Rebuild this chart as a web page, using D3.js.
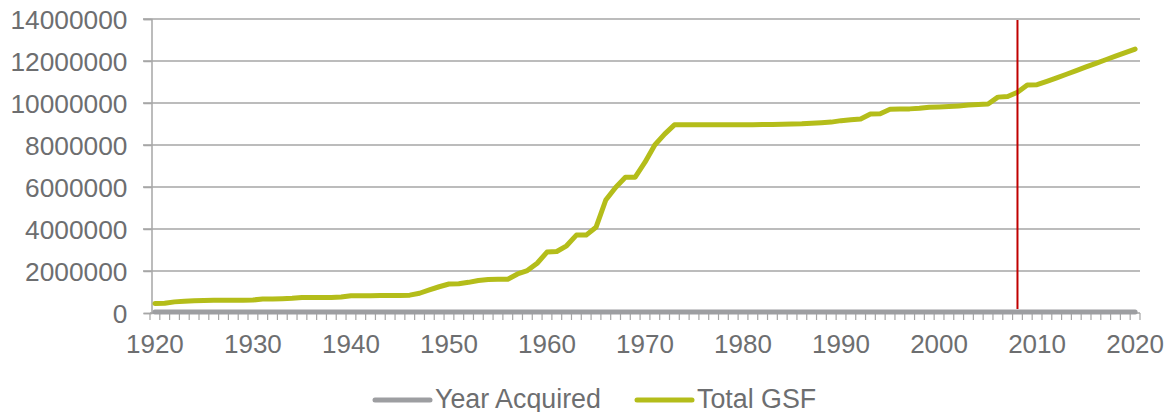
<!DOCTYPE html>
<html>
<head>
<meta charset="utf-8">
<script src="https://cdn.jsdelivr.net/npm/d3@7"></script>
<style>
  html, body { margin: 0; padding: 0; background: #fff; }
  svg { display: block; }
  text { font-family: "Liberation Sans", Arial, sans-serif; fill: #6d6e70; }
</style>
</head>
<body>
<svg id="chart" width="1165" height="412"></svg>
<script>
const years = d3.range(1920, 2021);
const yTicks = [0, 2000000, 4000000, 6000000, 8000000, 10000000, 12000000, 14000000];
const xTickLabels = [1920, 1930, 1940, 1950, 1960, 1970, 1980, 1990, 2000, 2010, 2020];
const totalGSF = [
  450000, 460000, 530000, 560000, 580000, 590000, 610000, 610000, 610000, 610000,
  620000, 670000, 670000, 680000, 700000, 740000, 740000, 740000, 740000, 760000,
  820000, 820000, 820000, 830000, 830000, 830000, 850000, 940000, 1100000, 1250000,
  1380000, 1390000, 1460000, 1550000, 1600000, 1610000, 1610000, 1860000, 2020000, 2370000,
  2900000, 2930000, 3200000, 3710000, 3710000, 4080000, 5380000, 5980000, 6460000, 6470000,
  7180000, 8000000, 8520000, 8960000, 8960000, 8960000, 8960000, 8960000, 8960000, 8970000,
  8970000, 8970000, 8980000, 8980000, 8990000, 9000000, 9010000, 9040000, 9060000, 9090000,
  9160000, 9200000, 9240000, 9480000, 9490000, 9700000, 9710000, 9720000, 9750000, 9800000,
  9810000, 9830000, 9860000, 9900000, 9930000, 9950000, 10280000, 10310000, 10510000, 10860000,
  10870000, 11030000, 11200000, 11370000, 11540000, 11720000, 11890000, 12060000, 12230000, 12400000,
  12570000
];
const yearAcquired = years.map(() => 0);
const markerYear = 2008;
const seriesNames = ["Year Acquired", "Total GSF"];
const seriesColors = ["#9d9ea1", "#b4bd1a"];

const svg = d3.select("#chart");
const x = d3.scaleBand().domain(years).range([150, 1140]).padding(0);
const y = d3.scaleLinear().domain([0, 14000000]).range([313, 19]);
const cx = d => x(d) + x.bandwidth() / 2;

// gridlines
svg.append("g").selectAll("line").data(yTicks.filter(v => v > 0)).join("line")
  .attr("x1", 143).attr("x2", 1140)
  .attr("y1", d => y(d)).attr("y2", d => y(d))
  .attr("stroke", "#a6a6a6").attr("stroke-width", 1.5);

// y axis
const yAxis = svg.append("g").attr("transform", "translate(151.5,0)")
  .call(d3.axisLeft(y).tickValues(yTicks).tickFormat(d3.format("d")).tickSize(8).tickPadding(16));
yAxis.select(".domain").attr("stroke", "#a6a6a6").attr("stroke-width", 1.5);
yAxis.selectAll(".tick line").attr("stroke", "#a6a6a6").attr("stroke-width", 1.5);
yAxis.selectAll("text").style("font-size", "26.3px").attr("fill", "#6d6e70").attr("dy", "0.36em");

// x axis ticks at category boundaries
const bounds = years.map(d => x(d)).concat([x(2020) + x.bandwidth()]);
svg.append("g").selectAll("line").data(bounds).join("line")
  .attr("x1", d => d).attr("x2", d => d)
  .attr("y1", 313).attr("y2", 320)
  .attr("stroke", "#a6a6a6").attr("stroke-width", 1.2);
svg.append("line").attr("x1", 150).attr("x2", 1140).attr("y1", 313).attr("y2", 313)
  .attr("stroke", "#a6a6a6").attr("stroke-width", 1.5);
svg.append("g").selectAll("text").data(xTickLabels).join("text")
  .attr("x", d => cx(d)).attr("y", 353)
  .attr("text-anchor", "middle").style("font-size", "26px").text(d => d);

const line = d3.line().x((d, i) => cx(years[i])).y(d => y(d));

// Year Acquired (at zero)
svg.append("path").datum(yearAcquired).attr("d", line)
  .attr("fill", "none").attr("stroke", seriesColors[0]).attr("stroke-width", 5)
  .attr("stroke-linejoin", "round").attr("stroke-linecap", "round")
  .attr("transform", "translate(0,-1)");

// Total GSF
svg.append("path").datum(totalGSF).attr("d", line)
  .attr("fill", "none").attr("stroke", seriesColors[1]).attr("stroke-width", 5)
  .attr("stroke-linejoin", "round").attr("stroke-linecap", "round");

// marker line
svg.append("line")
  .attr("x1", cx(markerYear)).attr("x2", cx(markerYear))
  .attr("y1", 20).attr("y2", 309)
  .attr("stroke", "#c00000").attr("stroke-width", 2);

// legend
const legendX = [375, 637];
const lg = svg.append("g");
seriesNames.forEach((name, i) => {
  lg.append("line").attr("x1", legendX[i]).attr("x2", legendX[i] + 55)
    .attr("y1", 400).attr("y2", 400)
    .attr("stroke", seriesColors[i]).attr("stroke-width", 5).attr("stroke-linecap", "round");
  lg.append("text").attr("x", legendX[i] + 60).attr("y", 407.5)
    .style("font-size", "26.8px").text(name);
});
</script>
</body>
</html>
